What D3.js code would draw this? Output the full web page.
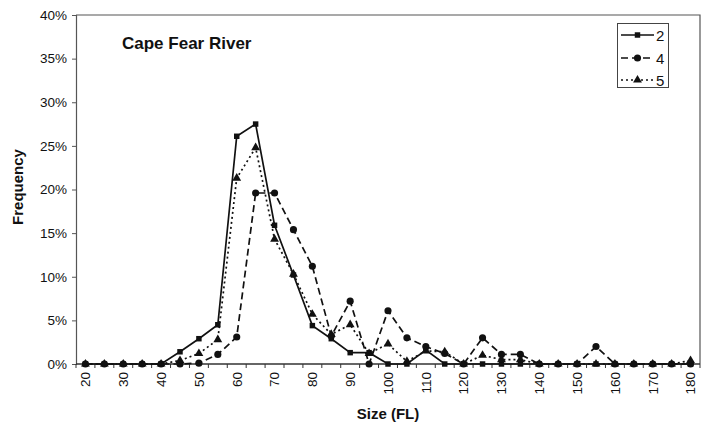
<!DOCTYPE html>
<html>
<head>
<meta charset="utf-8">
<script src="https://cdn.jsdelivr.net/npm/d3@7"></script>
<style>
  html, body { margin: 0; padding: 0; background: #fff; }
  svg { display: block; font-family: "Liberation Sans", Arial, sans-serif; }
</style>
</head>
<body>
<svg id="chart" width="707" height="424"></svg>
<script>
// ---- data ----
const categories = [20,25,30,35,40,45,50,55,60,65,70,75,80,85,90,95,100,105,110,115,120,125,130,135,140,145,150,155,160,165,170,175,180];
const series2 = [0,0,0,0,0,1.4,2.9,4.5,26.1,27.5,15.9,10.2,4.4,2.9,1.3,1.3,0,0,1.6,0,0,0,0,0,0,0,0,0,0,0,0,0,0];
const series4 = [0,0,0,0,0,0,0.1,1.1,3.1,19.6,19.6,15.4,11.2,3.2,7.2,0,6.1,3.0,2.0,1.2,0,3.0,1.1,1.1,0,0,0,2.0,0,0,0,0,0];
const series5 = [0,0,0,0,0,0.4,1.2,2.8,21.3,24.8,14.3,10.3,5.7,3.4,4.5,1.2,2.3,0.3,1.5,1.4,0,1.0,0.5,0.5,0,0,0,0,0,0,0,0,0.4];
const seriesNames = ["2", "4", "5"];
const yTicks = [0,5,10,15,20,25,30,35,40];
const xTickLabels = [20,30,40,50,60,70,80,90,100,110,120,130,140,150,160,170,180];
const chartTitle = "Cape Fear River";
const xTitle = "Size (FL)";
const yTitle = "Frequency";

// ---- layout ----
const svg = d3.select("#chart");
const L = 76, R = 700, T = 15, B = 364;

const x = d3.scaleBand().domain(categories).range([L, R]).padding(0);
const y = d3.scaleLinear().domain([0, 40]).range([B, T]);
const cx = d => x(d) + x.bandwidth() / 2;

const ink = "#111";

// plot frame (top + right)
svg.append("path")
  .attr("d", `M${L},${T}H${R}V${B}`)
  .attr("fill", "none").attr("stroke", "#555").attr("stroke-width", 1.2);

// y axis
const yAxis = d3.axisLeft(y).tickValues(yTicks).tickSize(4).tickPadding(5)
  .tickFormat(d => d + "%");
const gy = svg.append("g").attr("transform", `translate(${L},0)`).call(yAxis);
gy.select(".domain").attr("stroke", "#555").attr("stroke-width", 1.2);
gy.selectAll(".tick line").attr("stroke", "#555");
gy.selectAll(".tick text").attr("font-size", 13.5).attr("fill", ink)
  .attr("font-family", "Liberation Sans, Arial, sans-serif");

// x axis: ticks between categories
const gx = svg.append("g").attr("transform", `translate(0,${B})`);
gx.append("line").attr("x1", L).attr("x2", R).attr("y1", 0).attr("y2", 0)
  .attr("stroke", "#333").attr("stroke-width", 1.4);
const boundaries = categories.map(c => x(c)).concat([R]);
gx.selectAll("line.tk").data(boundaries).join("line").attr("class", "tk")
  .attr("x1", d => d).attr("x2", d => d).attr("y1", 0).attr("y2", 4)
  .attr("stroke", "#333");
gx.selectAll("text.xl").data(xTickLabels).join("text").attr("class", "xl")
  .attr("transform", d => `translate(${cx(d) + 4.8},${8}) rotate(-90)`)
  .attr("text-anchor", "end")
  .attr("font-size", 13.5).attr("fill", ink)
  .text(d => d);

// titles
svg.append("text").attr("x", 122).attr("y", 49)
  .attr("font-size", 17).attr("font-weight", "bold").attr("fill", ink)
  .text(chartTitle);
svg.append("text").attr("x", 388).attr("y", 419).attr("text-anchor", "middle")
  .attr("font-size", 15).attr("font-weight", "bold").attr("fill", ink)
  .text(xTitle);
svg.append("text").attr("transform", `translate(23,187) rotate(-90)`)
  .attr("text-anchor", "middle")
  .attr("font-size", 15).attr("font-weight", "bold").attr("fill", ink)
  .text(yTitle);

// series
const styles = [
  { data: series2, dash: null, marker: d3.symbolSquare, size: 30 },
  { data: series4, dash: "7,4", marker: d3.symbolCircle, size: 40 },
  { data: series5, dash: "2,3", marker: d3.symbolTriangle, size: 34 }
];
const line = d3.line().x((d, i) => cx(categories[i])).y(d => y(d));

styles.forEach(s => {
  const g = svg.append("g");
  g.append("path").datum(s.data).attr("d", line)
    .attr("fill", "none").attr("stroke", ink).attr("stroke-width", 1.7)
    .attr("stroke-dasharray", s.dash);
  g.selectAll("path.m").data(s.data).join("path").attr("class", "m")
    .attr("d", d3.symbol().type(s.marker).size(s.size))
    .attr("transform", (d, i) => `translate(${cx(categories[i])},${y(d)})`)
    .attr("fill", ink);
});

// legend
const lg = svg.append("g");
lg.append("rect").attr("x", 617.5).attr("y", 23.5).attr("width", 51).attr("height", 64)
  .attr("fill", "#fff").attr("stroke", "#444").attr("stroke-width", 1);
const legY = [35, 58, 80];
styles.forEach((s, i) => {
  lg.append("line").attr("x1", 621).attr("x2", 654).attr("y1", legY[i]).attr("y2", legY[i])
    .attr("stroke", ink).attr("stroke-width", 1.7).attr("stroke-dasharray", s.dash);
  lg.append("path").attr("d", d3.symbol().type(s.marker).size(s.size))
    .attr("transform", `translate(637.5,${legY[i]})`).attr("fill", ink);
  lg.append("text").attr("x", 656).attr("y", legY[i] + 5.5)
    .attr("font-size", 15).attr("fill", ink).text(seriesNames[i]);
});
</script>
</body>
</html>
